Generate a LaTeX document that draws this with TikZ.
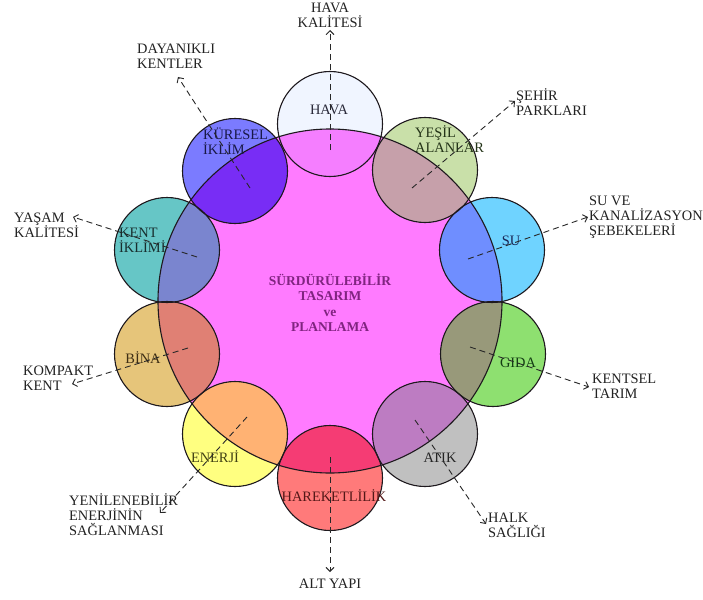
\documentclass[tikz,border=0pt]{standalone}
\usepackage{fontspec}
\setmainfont{Liberation Serif}
\usetikzlibrary{arrows.meta}
\definecolor{cBig}{RGB}{255,123,255}
\definecolor{havaO}{RGB}{240,245,255}
\definecolor{havaI}{RGB}{245,126,255}
\definecolor{kurO}{RGB}{123,123,255}
\definecolor{kurI}{RGB}{120,45,245}
\definecolor{yesO}{RGB}{201,224,169}
\definecolor{yesI}{RGB}{198,160,170}
\definecolor{suO}{RGB}{111,211,255}
\definecolor{suI}{RGB}{111,142,255}
\definecolor{kentO}{RGB}{102,198,198}
\definecolor{kentI}{RGB}{122,133,207}
\definecolor{binaO}{RGB}{230,197,122}
\definecolor{binaI}{RGB}{224,128,116}
\definecolor{gidaO}{RGB}{142,224,112}
\definecolor{gidaI}{RGB}{152,153,122}
\definecolor{enO}{RGB}{255,255,128}
\definecolor{enI}{RGB}{255,178,115}
\definecolor{harO}{RGB}{255,122,122}
\definecolor{harI}{RGB}{245,60,116}
\definecolor{atO}{RGB}{192,192,192}
\definecolor{atI}{RGB}{189,124,194}
\definecolor{ringcol}{RGB}{30,25,30}
\definecolor{labelgray}{RGB}{34,34,34}
\definecolor{arrowgray}{RGB}{40,40,40}
\definecolor{tHava}{RGB}{40,40,56}
\definecolor{tKur}{RGB}{24,24,70}
\definecolor{tYes}{RGB}{36,52,24}
\definecolor{tSu}{RGB}{24,36,84}
\definecolor{tGida}{RGB}{20,62,20}
\definecolor{tAtik}{RGB}{36,36,36}
\definecolor{tHar}{RGB}{84,24,24}
\definecolor{tEn}{RGB}{66,66,20}
\definecolor{tBina}{RGB}{62,46,20}
\definecolor{tKent}{RGB}{24,46,46}
\definecolor{tCenter}{RGB}{128,36,128}
\begin{document}
\begin{tikzpicture}[x=1pt,y=-1pt,
  lbl/.style={font=\fontsize{14.4}{15}\selectfont, text=labelgray, inner sep=0pt, align=left},
  inlbl/.style={font=\fontsize{14.4}{15}\selectfont, inner sep=0pt, align=left},
  ptr/.style={draw=arrowgray, line width=0.9pt, dash pattern=on 6pt off 4pt, -{Straight Barb[length=4pt,width=8pt]}},
  ring/.style={draw=ringcol, line width=1.1pt}]
\useasboundingbox (0,0) rectangle (703,599);
\fill[white] (0,0) rectangle (703,599);
% big circle
\fill[cBig] (330,301) circle[radius=172pt];
% small circles with overlap colours
\foreach \x/\y/\co/\ci in {330/124/havaO/havaI, 425/170/yesO/yesI, 492/250/suO/suI,
  493/354/gidaO/gidaI, 425/434/atO/atI, 330/478/harO/harI, 235/434/enO/enI,
  167/354/binaO/binaI, 167/250/kentO/kentI, 235/171/kurO/kurI}{
  \fill[\co] (\x,\y) circle[radius=52.5pt];
  \begin{scope}
    \clip (330,301) circle[radius=172pt];
    \fill[\ci] (\x,\y) circle[radius=52.5pt];
  \end{scope}
}
% outlines
\foreach \x/\y in {330/124, 425/170, 492/250, 493/354, 425/434, 330/478, 235/434, 167/354, 167/250, 235/171}{
  \draw[ring] (\x,\y) circle[radius=52.5pt];
}
\draw[ring] (330,301) circle[radius=172pt];
% centre text
\node[font=\bfseries\fontsize{13.5}{15.5}\selectfont, text=tCenter, align=center, inner sep=0pt] (center) at (330,302.5)
  {SÜRDÜRÜLEBİLİR\\TASARIM\\ve\\PLANLAMA};
% inner labels
\node[inlbl, text=tHava, anchor=center] (hava) at (329,110) {HAVA};
\node[inlbl, text=tKur, anchor=west] (kuresel) at (203,141.5) {KÜRESEL\\İKLİM};
\node[inlbl, text=tYes, anchor=west] (yesil) at (415,139) {YEŞİL\\ALANLAR};
\node[inlbl, text=tSu, anchor=center] (su) at (511,241) {SU};
\node[inlbl, text=tGida, anchor=center] (gida) at (518,363) {GIDA};
\node[inlbl, text=tAtik, anchor=center] (atik) at (440,458) {ATIK};
\node[inlbl, text=tHar, anchor=center] (hareket) at (334,496) {HAREKETLİLİK};
\node[inlbl, text=tEn, anchor=center] (enerji) at (215,457) {ENERJİ};
\node[inlbl, text=tBina, anchor=center] (bina) at (143,358) {BİNA};
\node[inlbl, text=tKent, anchor=west] (kent) at (119,240) {KENT\\İKLİMİ};
% outer labels
\node[lbl, align=center, anchor=center] (lhava) at (330,15) {HAVA\\KALİTESİ};
\node[lbl, anchor=west] (ldayan) at (137,56) {DAYANIKLI\\KENTLER};
\node[lbl, anchor=west] (lsehir) at (516,102) {ŞEHİR\\PARKLARI};
\node[lbl, anchor=west] (lsu) at (589,217) {SU VE\\KANALİZASYON\\ŞEBEKELERİ};
\node[lbl, anchor=west] (lgida) at (592,386) {KENTSEL\\TARIM};
\node[lbl, anchor=west] (lhalk) at (488,525) {HALK\\SAĞLIĞI};
\node[lbl, align=center, anchor=center] (lalt) at (330,584) {ALT YAPI};
\node[lbl, anchor=west] (lyeni) at (69,515) {YENİLENEBİLİR\\ENERJİNİN\\SAĞLANMASI};
\node[lbl, anchor=west] (lkomp) at (23,378) {KOMPAKT\\KENT};
\node[lbl, anchor=west] (lyasam) at (14,225) {YAŞAM\\KALİTESİ};
% arrow coordinates
\coordinate (s1) at (330,150); \coordinate (e1) at (330,30);
\coordinate (s2) at (250,188); \coordinate (e2) at (178,77);
\coordinate (s3) at (412,188); \coordinate (e3) at (515,101);
\coordinate (s4) at (468,259); \coordinate (e4) at (588,217);
\coordinate (s5) at (470,347); \coordinate (e5) at (589,387);
\coordinate (s6) at (415,420); \coordinate (e6) at (486,524);
\coordinate (s7) at (330,457); \coordinate (e7) at (330,572);
\coordinate (s8) at (247,417); \coordinate (e8) at (160,513);
\coordinate (s9) at (188,348); \coordinate (e9) at (72,384);
\coordinate (s10) at (197,257); \coordinate (e10) at (73,217);
\foreach \i in {1,...,10}{\draw[ptr] (s\i) -- (e\i);}
\end{tikzpicture}
\end{document}
